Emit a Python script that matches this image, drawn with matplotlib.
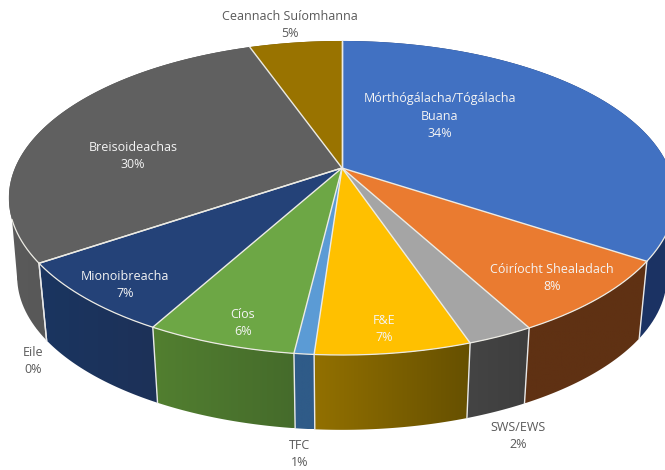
#!/usr/bin/env python3
import numpy as np
import matplotlib
matplotlib.use("Agg")
import matplotlib.pyplot as plt
from matplotlib.colors import LinearSegmentedColormap
from matplotlib.patches import Polygon

plt.rcParams["font.family"] = ["Open Sans", "DejaVu Sans"]

names = ["Mórthógálacha/Tógálacha\nBuana", "Cóiríocht Shealadach", "SWS/EWS", "F&E", "TFC",
         "Cíos", "Mionoibreacha", "Eile", "Breisoideachas", "Ceannach Suíomhanna"]
shares = [34.3, 7.8, 2.7, 6.3, 0.8, 6.1, 7.5, 0.0, 29.1, 5.4]
pct_labels = ["34%", "8%", "2%", "7%", "1%", "6%", "7%", "0%", "30%", "5%"]

top_colors = ["#4171c2", "#ea7b30", "#a5a5a5", "#ffc000", "#5b9bd5",
              "#6da745", "#244278", "#9e480e", "#606060", "#997300"]
side_left = ["#1b3263", "#5f3113", "#444444", "#927000", "#2f5b88",
             "#527f30", "#1a3560", "#5f3113", "#5a5a5a", "#6b5200"]
side_right = ["#1b3263", "#5f3113", "#3e3e3e", "#665000", "#2f5b88",
              "#456b2b", "#1d3158", "#5f3113", "#4c4c4c", "#6b5200"]

label_pos = [(440, 116), (552, 278), (518, 436), (384, 329), (300, 454),
             (243, 323), (125, 285), (33, 361), (133, 156), (290, 25)]
label_colors = ["#f4f4f4", "#f4f4f4", "#595959", "#f4f4f4", "#595959",
                "#f4f4f4", "#f4f4f4", "#595959", "#f4f4f4", "#595959"]

# pie geometry in pixels, k gives the perspective of the tilted disc
CX, CY = 342, 168
RX, RY, K = 327, 151.3, 0.191
SHRINK, CY_BOTTOM = 0.975, 247.5
RIM_START = 108.7  # degrees, where the wall comes out from behind the top face
EDGE = "#ecebe4"


def rim(theta, bottom=False):
    s, c = np.sin(theta), np.cos(theta)
    f = SHRINK if bottom else 1.0
    cy = CY_BOTTOM if bottom else CY
    d = 1 + K * c
    return CX + f * RX * s / d, cy - f * RY * c / d


fig = plt.figure(figsize=(6.65, 4.7), dpi=100)
ax = fig.add_axes([0, 0, 1, 1])

edges = np.radians(np.concatenate([[0], np.cumsum(shares)]) * 3.6)
order = sorted(range(len(shares)), key=lambda i: -abs((edges[i] + edges[i + 1]) / 2 - np.pi))

# side walls, far ones first
for i in order:
    if shares[i] == 0:
        continue
    t = np.linspace(edges[i], edges[i + 1], 80)
    xt, yt = rim(t)
    xb, yb = rim(t[::-1], bottom=True)
    pts = np.column_stack([np.r_[xt, xb], np.r_[yt, yb]])
    cmap = LinearSegmentedColormap.from_list("s", [side_left[i], side_right[i]])
    im = ax.imshow(np.linspace(0, 1, 64).reshape(1, -1), cmap=cmap, aspect="auto", zorder=2,
                   extent=(pts[:, 0].min(), pts[:, 0].max(), pts[:, 1].max(), pts[:, 1].min()))
    im.set_clip_path(Polygon(pts, transform=ax.transData))

# tangent piece of wall between the top and bottom outlines, both sides
for a, b, c, col in [(360 - RIM_START, 258, 240, side_left[8]), (RIM_START, 102, 120, side_left[0])]:
    x0, y0 = rim(np.radians(a))
    x1, y1 = rim(np.radians(b), bottom=True)
    x2, y2 = rim(np.radians(c), bottom=True)
    x3, y3 = rim(np.radians(c))
    ax.fill([x0, x1, x2, x3], [y0, y1, y2, y3], color=col, lw=0, zorder=1.9)

# light seams between the walls
for e in edges:
    if np.radians(115) < e < np.radians(245):
        x0, y0 = rim(e)
        x1, y1 = rim(e, bottom=True)
        ax.plot([x0, x1], [y0, y1], color="#e8e8e8", lw=1.0, zorder=3)

# top face
for i in range(len(shares)):
    if shares[i] == 0:
        continue
    t = np.linspace(edges[i], edges[i + 1], 120)
    xt, yt = rim(t)
    ax.fill(np.r_[CX, xt], np.r_[CY, yt], facecolor=top_colors[i], edgecolor="none", zorder=4)

# seams on the top face: spokes, and only the near part of the outer rim
for e in edges:
    x0, y0 = rim(e)
    ax.plot([CX, x0], [CY, y0], color=EDGE, lw=1.0, zorder=4.5, solid_capstyle="round")
t = np.radians(np.linspace(RIM_START, 360 - RIM_START, 300))
ax.plot(*rim(t), color=EDGE, lw=0.9, zorder=4.5)

for name, pct, (x, y), col in zip(names, pct_labels, label_pos, label_colors):
    ax.text(x, y, f"{name}\n{pct}", ha="center", va="center", color=col, fontsize=9.0,
            linespacing=1.42, zorder=5)

ax.set_xlim(0, 665)
ax.set_ylim(470, 0)
ax.axis("off")

fig.savefig("out.png", dpi=100)
